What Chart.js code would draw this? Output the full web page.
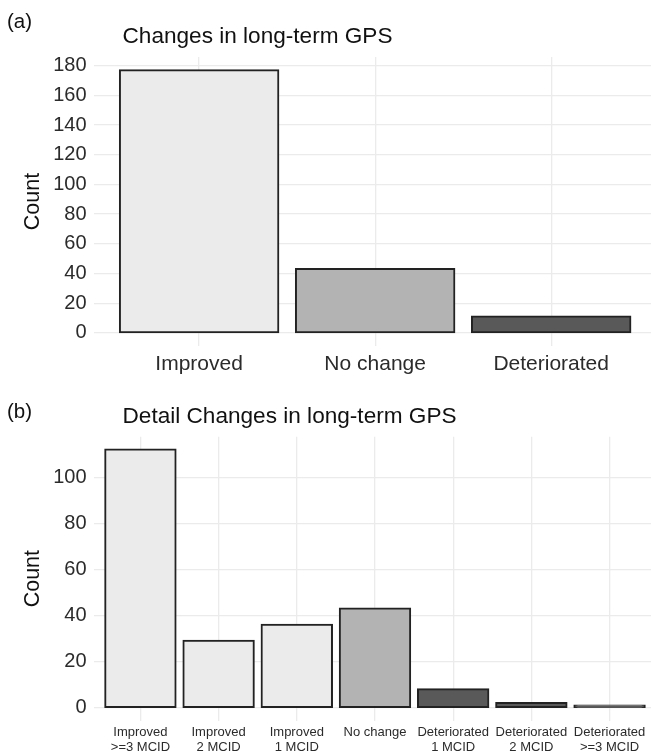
<!DOCTYPE html>
<html>
<head>
<meta charset="utf-8">
<script src="https://cdn.jsdelivr.net/npm/chart.js@4"></script>
<style>
  html, body { margin: 0; padding: 0; background: #fff; overflow: hidden; }
  #wrapA { position: absolute; left: 0; top: 0; }
  #wrapB { position: absolute; left: 0; top: 380px; }
</style>
</head>
<body>
<div id="wrapA"><canvas id="chartA" width="651" height="380"></canvas></div>
<div id="wrapB"><canvas id="chartB" width="651" height="375"></canvas></div>
<script>
// datos de los dos paneles
const categoriesA = ['Improved', 'No change', 'Deteriorated'];
const countsA = [177, 43, 11];
const yTicksA = [0, 20, 40, 60, 80, 100, 120, 140, 160, 180];

const categoriesB = [
  ['Improved', '>=3 MCID'],
  ['Improved', '2 MCID'],
  ['Improved', '1 MCID'],
  'No change',
  ['Deteriorated', '1 MCID'],
  ['Deteriorated', '2 MCID'],
  ['Deteriorated', '>=3 MCID']
];
const countsB = [112, 29, 36, 43, 8, 2, 1];
const yTicksB = [0, 20, 40, 60, 80, 100];

// colores (grupo: mejora / sin cambio / empeora)
const fillA = ['#ebebeb', '#b3b3b3', '#595959'];
const fillB = ['#ebebeb', '#ebebeb', '#ebebeb', '#b3b3b3', '#595959', '#595959', '#595959'];

const FONT = '"Liberation Sans", Arial, Helvetica, sans-serif';

// texto "(a)" y titulo del panel
const panelText = {
  id: 'panelText',
  afterDraw(chart, args, opts) {
    const ctx = chart.ctx;
    ctx.save();
    ctx.fillStyle = '#111';
    ctx.textAlign = 'left';
    ctx.textBaseline = 'alphabetic';
    ctx.font = '20.5px ' + FONT;
    ctx.fillText(opts.tag, 7, opts.tagY);
    ctx.font = '22.6px ' + FONT;
    ctx.fillText(opts.title, 122.5, 42.5);
    ctx.restore();
  }
};

function makeChart(id, cats, counts, fills, yTicks, o) {
  const ctx = document.getElementById(id);
  const yMax = Math.max(...counts);
  return new Chart(ctx, {
    type: 'bar',
    data: {
      datasets: [{
        data: counts.map((v, i) => ({ x: i, y: v })),
        backgroundColor: fills,
        borderColor: '#222',
        borderWidth: 2,
        borderSkipped: false,
        inflateAmount: 1, // el trazo de ggplot va centrado en el borde
        categoryPercentage: 1,
        barPercentage: 0.9
      }]
    },
    options: {
      responsive: false,
      animation: false,
      devicePixelRatio: 1,
      events: [],
      layout: { padding: { top: o.top, left: 0, right: 0, bottom: 0 } },
      plugins: {
        legend: { display: false },
        tooltip: { enabled: false },
        panelText: { tag: o.tag, tagY: o.tagY, title: o.title }
      },
      scales: {
        x: {
          type: 'linear',
          offset: false,
          min: -0.6,
          max: o.xMax,
          afterBuildTicks: (scale) => { scale.ticks = cats.map((c, i) => ({ value: i })); },
          afterFit: (scale) => { scale.height = o.xHeight; },
          grid: { color: '#ebebeb', lineWidth: 1.3, drawTicks: false, offset: false },
          border: { display: false },
          ticks: {
            color: '#2b2b2b',
            padding: o.xPad,
            maxRotation: 0,
            autoSkip: false,
            font: { family: FONT, size: o.xFont, lineHeight: o.xLine },
            callback: (value) => cats[value]
          }
        },
        y: {
          min: -0.05 * yMax,
          max: 1.05 * yMax,
          afterBuildTicks: (scale) => { scale.ticks = yTicks.map(v => ({ value: v })); },
          afterFit: (scale) => { scale.width = 93.5; },
          grid: { color: '#ebebeb', lineWidth: 1.3, drawTicks: false },
          border: { display: false },
          ticks: {
            color: '#2b2b2b',
            padding: 7,
            font: { family: FONT, size: 20 }
          },
          title: {
            display: true,
            text: 'Count',
            color: '#111',
            padding: { top: 20, bottom: 0 },
            font: { family: FONT, size: 21.5, lineHeight: 1.2 }
          }
        }
      }
    },
    plugins: [panelText]
  });
}

makeChart('chartA', categoriesA, countsA, fillA, yTicksA, {
  top: 57, xHeight: 34, xMax: 2.567, xPad: 5.7, xFont: 21, xLine: 1.2,
  tag: '(a)', tagY: 28.4, title: 'Changes in long-term GPS'
});

makeChart('chartB', categoriesB, countsB, fillB, yTicksB, {
  top: 56.7, xHeight: 34.4, xMax: 6.53, xPad: 4.3, xFont: 13, xLine: 1.16,
  tag: '(b)', tagY: 38.4, title: 'Detail Changes in long-term GPS'
});
</script>
</body>
</html>
